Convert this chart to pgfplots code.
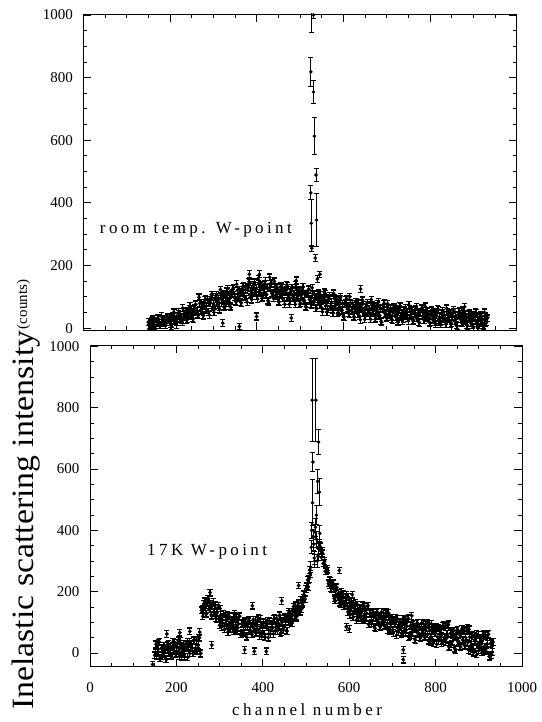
\documentclass[border=0pt]{standalone}
\usepackage{pgfplots}
\pgfplotsset{compat=1.18}
\usepackage{fontspec}
\setmainfont{Liberation Serif}
\newfontfamily\spaced[LetterSpace=20]{Liberation Serif}
\begin{document}
\begin{tikzpicture}
\useasboundingbox (0pt,0pt) rectangle (541pt,722pt);
\pgfplotsset{
  panel/.style={
    scale only axis, anchor=south west,
    xmin=0, xmax=1000,
    xtick={0,200,...,1000}, ytick={0,200,...,1000},
    minor tick num=3, tick align=inside, tick pos=both,
    major tick length=8pt, minor tick length=4pt,
    axis line style={line width=0.9pt}, every tick/.style={line width=0.8pt, black},
    /pgf/number format/assume math mode=true,
    /pgf/number format/1000 sep={},
    ticklabel style={font=\fontsize{15}{15}\selectfont},
    yticklabel style={xshift=-7pt},
    xticklabel style={yshift=-12pt},
  },
  dots/.style={only marks, mark=*, mark size=1.7pt, black,
    error bars/y dir=both, error bars/y fixed=11,
    error bars/error bar style={line width=1.2pt},
    error bars/error mark options={rotate=90, mark size=2.6pt, line width=1.2pt}},
  spike/.style={only marks, mark=*, mark size=1.6pt, black,
    error bars/y dir=both, error bars/y explicit,
    error bars/error bar style={line width=1pt},
    error bars/error mark options={rotate=90, mark size=2.5pt, line width=1pt}},
}
% ---------- top panel: room temperature ----------
\begin{axis}[panel, at={(83.3pt,392pt)}, width=433.4pt, height=316pt,
  ymin=-6, ymax=1003, xticklabels={}]
\addplot[dots] coordinates {
(150,19)(153,0)(156,15)(159,28)(162,8)(165,0)(168,21)(171,29)(174,16)(177,10)
(180,38)(183,17)(186,29)(189,10)(192,25)(195,36)(198,19)(201,33)(204,5)(207,37)
(210,49)(213,29)(216,19)(219,46)(222,29)(225,42)(228,19)(231,55)(234,41)(237,56)
(240,30)(243,50)(246,70)(249,43)(252,32)(255,62)(258,74)(261,54)(264,43)(267,98)
(270,57)(273,80)(276,42)(279,72)(282,93)(285,57)(288,82)(291,42)(294,89)(297,105)
(300,77)(303,61)(306,99)(309,74)(312,92)(315,59)(318,109)(321,89)(324,110)(327,71)
(330,100)(333,126)(336,86)(339,69)(342,110)(345,125)(348,98)(351,86)(354,140)(357,99)
(360,122)(363,83)(366,113)(369,134)(372,99)(375,123)(378,83)(381,130)(384,146)(387,118)
(390,102)(393,138)(396,112)(399,127)(402,93)(405,141)(408,120)(411,139)(414,98)(417,125)
(420,150)(423,107)(426,88)(429,128)(432,141)(435,111)(438,97)(441,149)(444,106)(447,127)
(450,86)(453,113)(456,133)(459,95)(462,117)(465,76)(468,120)(471,134)(474,103)(477,86)
(480,121)(483,95)(486,110)(489,76)(492,123)(495,102)(498,120)(501,80)(504,106)(507,131)
(510,88)(513,69)(516,108)(519,121)(522,91)(525,77)(528,129)(531,85)(534,106)(537,65)
(540,92)(543,111)(546,73)(549,94)(552,52)(555,96)(558,110)(561,79)(564,60)(567,95)
(570,68)(573,83)(576,48)(579,95)(582,73)(585,91)(588,50)(591,76)(594,100)(597,57)
(600,38)(603,77)(606,91)(609,61)(612,48)(615,100)(618,56)(621,78)(624,37)(627,65)
(630,84)(633,46)(636,69)(639,27)(642,72)(645,86)(648,55)(651,38)(654,73)(657,47)
(660,62)(663,28)(666,75)(669,54)(672,72)(675,32)(678,59)(681,83)(684,41)(687,22)
(690,62)(693,76)(696,46)(699,33)(702,78)(705,44)(708,61)(711,28)(714,51)(717,66)
(720,36)(723,54)(726,21)(729,57)(732,69)(735,44)(738,30)(741,59)(744,38)(747,50)
(750,23)(753,61)(756,43)(759,58)(762,26)(765,48)(768,67)(771,33)(774,19)(777,50)
(780,61)(783,38)(786,27)(789,69)(792,34)(795,51)(798,19)(801,41)(804,57)(807,26)
(810,44)(813,12)(816,47)(819,59)(822,35)(825,21)(828,49)(831,28)(834,41)(837,13)
(840,51)(843,34)(846,48)(849,16)(852,38)(855,58)(858,23)(861,9)(864,41)(867,51)
(870,28)(873,18)(876,59)(879,25)(882,41)(885,9)(888,32)(891,47)(894,17)(897,34)
(900,2)(903,37)(906,48)(909,24)(912,9)(915,37)(918,15)(921,27)(924,0)(927,37)(930,19)(933,33)
(322,16)(360,5)(400,37)(480,32)(383,172)(406,172)(430,162)(491,152)(540,157)(640,125)(880,68)
};
\addplot[dots] coordinates {
(151.5,-3)(154.5,12)(157.5,23)(160.5,6)(163.5,18)(166.5,-2)(169.5,22)(172.5,31)(175.5,17)(178.5,9)
(181.5,28)(184.5,16)(187.5,25)(190.5,9)(193.5,34)(196.5,25)(199.5,35)(202.5,12)(205.5,32)(208.5,50)
(211.5,22)(214.5,11)(217.5,40)(220.5,51)(223.5,33)(226.5,25)(229.5,64)(232.5,35)(235.5,52)(238.5,25)
(241.5,46)(244.5,62)(247.5,39)(250.5,57)(253.5,30)(256.5,63)(259.5,76)(262.5,56)(265.5,41)(268.5,79)
(271.5,55)(274.5,73)(277.5,40)(280.5,90)(283.5,70)(286.5,91)(289.5,52)(292.5,81)(295.5,107)(298.5,67)
(301.5,50)(304.5,92)(307.5,107)(310.5,80)(313.5,68)(316.5,123)(319.5,81)(322.5,105)(325.5,66)(328.5,96)
(331.5,117)(334.5,81)(337.5,106)(340.5,66)(343.5,112)(346.5,129)(349.5,100)(352.5,84)(355.5,121)(358.5,97)
(361.5,114)(364.5,81)(367.5,131)(370.5,111)(373.5,132)(376.5,93)(379.5,121)(382.5,148)(385.5,107)(388.5,91)
(391.5,132)(394.5,146)(397.5,117)(400.5,103)(403.5,156)(406.5,113)(409.5,135)(412.5,95)(415.5,122)(418.5,142)
(421.5,105)(424.5,127)(427.5,85)(430.5,130)(433.5,144)(436.5,113)(439.5,95)(442.5,130)(445.5,104)(448.5,119)
(451.5,84)(454.5,131)(457.5,110)(460.5,128)(463.5,87)(466.5,114)(469.5,138)(472.5,95)(475.5,76)(478.5,116)
(481.5,129)(484.5,100)(487.5,86)(490.5,139)(493.5,95)(496.5,117)(499.5,76)(502.5,104)(505.5,123)(508.5,86)
(511.5,108)(514.5,66)(517.5,110)(520.5,124)(523.5,93)(526.5,75)(529.5,110)(532.5,83)(535.5,98)(538.5,63)
(541.5,110)(544.5,88)(547.5,106)(550.5,64)(553.5,90)(556.5,114)(559.5,71)(562.5,52)(565.5,90)(568.5,103)
(571.5,73)(574.5,59)(577.5,111)(580.5,67)(583.5,88)(586.5,47)(589.5,74)(592.5,93)(595.5,55)(598.5,77)
(601.5,35)(604.5,79)(607.5,94)(610.5,63)(613.5,46)(616.5,81)(619.5,54)(622.5,70)(625.5,35)(628.5,83)
(631.5,61)(634.5,79)(637.5,39)(640.5,65)(643.5,90)(646.5,47)(649.5,28)(652.5,68)(655.5,81)(658.5,52)
(661.5,38)(664.5,91)(667.5,47)(670.5,69)(673.5,28)(676.5,56)(679.5,76)(682.5,38)(685.5,61)(688.5,19)
(691.5,64)(694.5,79)(697.5,48)(700.5,35)(703.5,63)(706.5,42)(709.5,55)(712.5,27)(715.5,65)(718.5,47)
(721.5,62)(724.5,30)(727.5,51)(730.5,71)(733.5,37)(736.5,23)(739.5,54)(742.5,65)(745.5,42)(748.5,31)
(751.5,73)(754.5,39)(757.5,55)(760.5,23)(763.5,46)(766.5,61)(769.5,31)(772.5,49)(775.5,17)(778.5,52)
(781.5,64)(784.5,40)(787.5,25)(790.5,54)(793.5,32)(796.5,45)(799.5,18)(802.5,55)(805.5,38)(808.5,52)
(811.5,20)(814.5,42)(817.5,61)(820.5,27)(823.5,13)(826.5,45)(829.5,55)(832.5,32)(835.5,22)(838.5,63)
(841.5,29)(844.5,46)(847.5,13)(850.5,36)(853.5,52)(856.5,22)(859.5,39)(862.5,7)(865.5,43)(868.5,54)
(871.5,30)(874.5,16)(877.5,44)(880.5,23)(883.5,35)(886.5,8)(889.5,46)(892.5,28)(895.5,43)(898.5,10)
(901.5,32)(904.5,51)(907.5,16)(910.5,2)(913.5,33)(916.5,43)(919.5,19)(922.5,8)(925.5,50)(928.5,15)(931.5,31)
};
\addplot[spike] coordinates {
(525,818)+-(0,45) (526,1060)+-(0,115) (531,1000)+-(0,10) (531,754)+-(0,37)
(533,613)+-(0,60) (537,489)+-(0,22) (525,432)+-(0,22) (538,345)+-(0,86)
(526,335)+-(0,75) (527,255)+-(0,10) (535,224)+-(0,10) (546,172)+-(0,10)
};
\node[anchor=base west, inner sep=0pt, font=\spaced\fontsize{17}{17}\selectfont] at (axis cs:38,302) {room temp. W-point};
\end{axis}
% ---------- bottom panel: 17 K ----------
\begin{axis}[panel, at={(90pt,55.3pt)}, width=432pt, height=321.7pt,
  ymin=-45, ymax=1005]
\addplot[dots] coordinates {
(150,-8)(153,28)(156,0)(159,34)(162,-18)(165,15)(168,-10)(171,22)(174,10)(177,-21)
(180,27)(183,0)(186,20)(189,-11)(192,35)(195,7)(198,-4)(201,17)(204,41)(207,-11)
(210,22)(213,3)(216,30)(219,-12)(222,18)(225,37)(228,9)(231,-2)(234,29)(237,16)
(240,41)(243,6)(246,42)(249,15)(252,49)(255,-3)
(258,139)(261,119)(264,161)(267,156)
(270,128)(273,177)(276,142)(279,159)(282,120)(285,166)(288,130)(291,113)(294,131)(297,153)
(300,90)(303,124)(306,99)(309,127)(312,77)(315,108)(318,125)(321,92)(324,77)(327,108)
(330,91)(333,117)(336,76)(339,114)(342,82)(345,119)(348,60)(351,95)(354,66)(357,100)
(360,86)(363,51)(366,103)(369,73)(372,94)(375,60)(378,109)(381,78)(384,65)(387,87)
(390,113)(393,55)(396,91)(399,70)(402,100)(405,52)(408,85)(411,105)(414,75)(417,62)
(420,96)(423,82)(426,111)(429,72)(432,112)(435,83)(438,121)(441,64)(444,101)(447,75)
(450,111)(453,102)(456,71)(459,128)(462,102)(465,127)(468,97)(471,151)(474,124)(477,115)
(480,139)(483,162)(486,135)(489,164)(492,161)(495,191)(498,175)(501,208)(504,238)(507,242)(510,258)
(531,358)(534,332)(537,333)(540,292)(543,300)(546,266)(549,274)(552,227)(555,237)(558,211)
(561,227)(564,210)(567,172)(570,214)(573,182)(576,196)(579,160)(582,200)(585,168)(588,153)(591,169)(594,190)(597,134)
(600,163)(603,139)(606,166)(609,116)(612,146)(615,164)(618,131)(621,115)(624,147)(627,129)
(630,154)(633,112)(636,150)(639,117)(642,153)(645,93)(648,127)(651,98)(654,131)(657,117)
(660,80)(663,132)(666,101)(669,120)(672,85)(675,134)(678,102)(681,88)(684,109)(687,134)
(690,75)(693,110)(696,86)(699,115)(702,65)(705,97)(708,115)(711,83)(714,68)(717,101)
(720,84)(723,110)(726,69)(729,107)(732,75)(735,111)(738,52)(741,87)(744,58)(747,92)
(750,78)(753,42)(756,94)(759,63)(762,83)(765,49)(768,98)(771,66)(774,52)(777,74)
(780,99)(783,40)(786,75)(789,53)(792,82)(795,33)(798,65)(801,84)(804,53)(807,39)
(810,75)(813,56)(816,87)(819,39)(822,85)(825,47)(828,90)(831,20)(834,63)(837,28)
(840,69)(843,53)(846,10)(849,73)(852,36)(855,60)(858,19)(861,78)(864,40)(867,24)
(870,50)(873,81)(876,10)(879,52)(882,25)(885,60)(888,1)(891,40)(894,63)(897,25)
(900,8)(903,48)(906,28)(909,59)(912,9)(915,55)(918,16)(921,59)(924,-12)(927,30)(930,-6)(933,35)
(145,-38)(282,26)(358,10)(380,5)(408,5)(593,85)(725,10)(725,-22)(278,197)(334,127)
(376,154)(444,170)(483,220)(577,269)(607,190)(745,121)(790,95)(866,70)(178,62)(208,66)
(231,70)(254,68)(600,78)
};
\addplot[dots] coordinates {
(151.5,2)(154.5,-9)(157.5,12)(160.5,36)(163.5,-16)(166.5,16)(169.5,-3)(172.5,24)(175.5,-19)(178.5,11)
(181.5,30)(184.5,2)(187.5,-9)(190.5,22)(193.5,9)(196.5,33)(199.5,-2)(202.5,33)(205.5,6)(208.5,40)
(211.5,-12)(214.5,21)(217.5,-4)(220.5,28)(223.5,17)(226.5,-14)(229.5,35)(232.5,8)(235.5,28)(238.5,-2)
(241.5,43)(244.5,16)(247.5,5)(250.5,26)(253.5,50)(256.5,-1)
(259.5,144)(262.5,130)(265.5,168)(268.5,127)(271.5,162)(274.5,177)(277.5,142)(280.5,124)(283.5,154)(286.5,134)
(289.5,157)(292.5,112)(295.5,147)(298.5,111)(301.5,145)(304.5,85)(307.5,118)(310.5,88)(313.5,121)(316.5,105)
(319.5,68)(322.5,119)(325.5,87)(328.5,105)(331.5,70)(334.5,119)(337.5,87)(340.5,73)(343.5,95)(346.5,120)
(349.5,61)(352.5,96)(355.5,73)(358.5,103)(361.5,54)(364.5,87)(367.5,106)(370.5,75)(373.5,62)(376.5,95)
(379.5,80)(382.5,107)(385.5,67)(388.5,105)(391.5,74)(394.5,111)(397.5,54)(400.5,90)(403.5,62)(406.5,97)
(409.5,84)(412.5,50)(415.5,103)(418.5,73)(421.5,95)(424.5,62)(427.5,113)(430.5,84)(433.5,72)(436.5,96)
(439.5,123)(442.5,67)(445.5,104)(448.5,83)(451.5,116)(454.5,72)(457.5,109)(460.5,133)(463.5,106)(466.5,97)
(469.5,135)(472.5,124)(475.5,155)(478.5,119)(481.5,154)(484.5,142)(487.5,173)(490.5,144)(493.5,179)(496.5,175)
(499.5,209)(502.5,217)(505.5,216)(508.5,271)
(532.5,348)(535.5,312)(538.5,325)(541.5,293)(544.5,267)(547.5,266)(550.5,269)(553.5,222)(556.5,234)(559.5,210)
(562.5,227)(565.5,178)(568.5,202)(571.5,214)(574.5,181)(577.5,164)(580.5,190)(583.5,172)(586.5,192)(589.5,152)
(592.5,183)(595.5,153)(598.5,182)(601.5,124)(604.5,157)(607.5,127)(610.5,160)(613.5,144)(616.5,107)(619.5,157)
(622.5,125)(625.5,144)(628.5,107)(631.5,155)(634.5,123)(637.5,108)(640.5,129)(643.5,154)(646.5,94)(649.5,129)
(652.5,105)(655.5,133)(658.5,84)(661.5,115)(664.5,134)(667.5,102)(670.5,88)(673.5,121)(676.5,104)(679.5,130)
(682.5,89)(685.5,127)(688.5,95)(691.5,130)(694.5,71)(697.5,105)(700.5,76)(703.5,109)(706.5,95)(709.5,58)
(712.5,110)(715.5,78)(718.5,98)(721.5,63)(724.5,112)(727.5,80)(730.5,66)(733.5,88)(736.5,113)(739.5,54)
(742.5,89)(745.5,66)(748.5,95)(751.5,46)(754.5,78)(757.5,97)(760.5,65)(763.5,51)(766.5,84)(769.5,68)
(772.5,94)(775.5,53)(778.5,92)(781.5,60)(784.5,96)(787.5,37)(790.5,72)(793.5,43)(796.5,78)(799.5,64)
(802.5,28)(805.5,80)(808.5,49)(811.5,72)(814.5,31)(817.5,90)(820.5,51)(823.5,35)(826.5,62)(829.5,93)
(832.5,22)(835.5,64)(838.5,37)(841.5,73)(844.5,14)(847.5,53)(850.5,76)(853.5,38)(856.5,22)(859.5,62)
(862.5,43)(865.5,74)(868.5,25)(871.5,72)(874.5,34)(877.5,77)(880.5,7)(883.5,49)(886.5,14)(889.5,55)
(892.5,39)(895.5,-5)(898.5,58)(901.5,20)(904.5,44)(907.5,2)(910.5,61)(913.5,21)(916.5,5)(919.5,30)
(922.5,61)(925.5,-11)(928.5,31)(931.5,3)
};
\addplot[spike] coordinates {
(511,280)+-(0,18) (512,345)+-(0,22) (513,400)+-(0,25) (514,825)+-(0,135)
(515,490)+-(0,75) (516,623)+-(0,30) (517,380)+-(0,22) (518,355)+-(0,22)
(519,310)+-(0,20) (520,300)+-(0,20) (521,395)+-(0,25) (522,410)+-(0,30)
(523,825)+-(0,135) (524,450)+-(0,30) (525,370)+-(0,25) (526,300)+-(0,20)
(527,560)+-(0,40) (528,320)+-(0,20) (529,688)+-(0,40) (530,340)+-(0,25)
(531,525)+-(0,45) (532,390)+-(0,25)
};
\node[anchor=base west, inner sep=0pt, font=\spaced\fontsize{17}{17}\selectfont] at (axis cs:132,319) {17K W-point};
\end{axis}
\node[anchor=base, inner sep=0pt, font=\spaced\fontsize{17}{17}\selectfont] at (307pt,6pt) {channel number};
\node[rotate=90, anchor=base west, inner sep=0pt] at (33pt,12pt)
  {\scalebox{1.09}[1]{\fontsize{31}{31}\selectfont Inelastic scattering intensity}\,\raisebox{6pt}{\fontsize{15}{15}\selectfont(counts)}};
\end{tikzpicture}
\end{document}
